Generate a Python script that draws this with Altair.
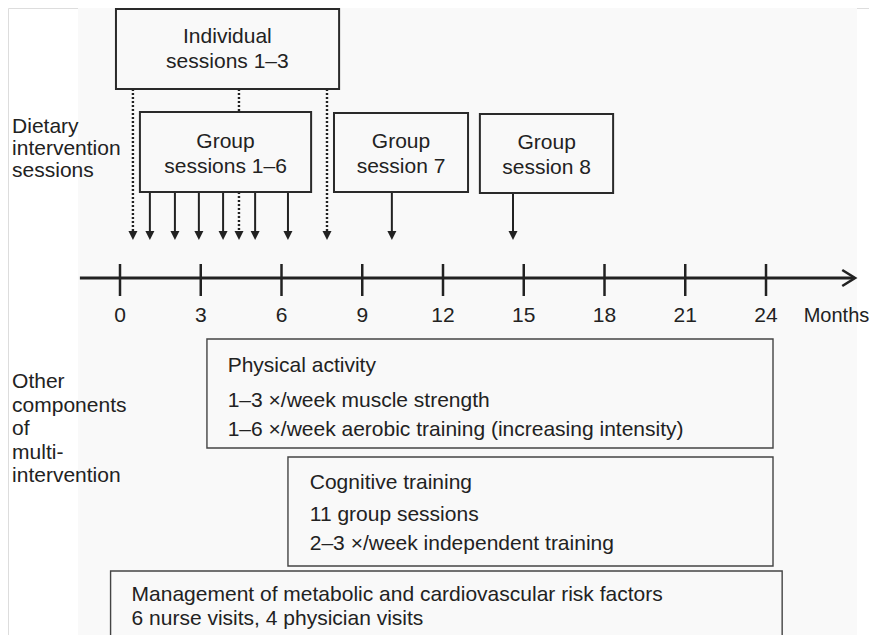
import altair as alt
import pandas as pd

# ---------------- data (x in months, y in diagram layout units from top) -------------
tick_months = [0, 3, 6, 9, 12, 15, 18, 21, 24]

individual_session_months = [0.48, 4.42, 7.69]
group_session_months = [1.11, 2.04, 2.93, 3.83, 5.02, 6.24]
group7_month = [10.1]
group8_month = [14.6]

box_names = ["Individual", "Group 1-6", "Group 7", "Group 8",
             "Physical", "Cognitive", "Management"]
box_start = [-0.15, 0.74, 7.95, 13.37, 3.23, 6.24, -0.35]
box_end = [8.14, 7.10, 12.93, 18.32, 24.26, 24.26, 24.6]
box_top = [9, 112, 113, 114, 339, 457, 571]
box_bottom = [89, 192, 192, 193, 448, 566, 700]
box_weight = [2, 2, 2, 2, 1.4, 1.4, 1.4]

center_text = ["Individual", "sessions 1\u20133", "Group", "sessions 1\u20136",
               "Group", "session 7", "Group", "session 8"]
center_x = [3.99, 3.99, 3.92, 3.92, 10.44, 10.44, 15.85, 15.85]
center_y = [43, 68, 148, 173, 148, 173, 149, 174]

left_text = ["Dietary", "intervention", "sessions",
             "Other", "components", "of", "multi-", "intervention",
             "Physical activity", "1\u20133 \u00d7/week muscle strength",
             "1\u20136 \u00d7/week aerobic training (increasing intensity)",
             "Cognitive training", "11 group sessions",
             "2\u20133 \u00d7/week independent training",
             "Management of metabolic and cardiovascular risk factors",
             "6 nurse visits, 4 physician visits"]
left_x = [-4.01, -4.01, -4.01,
          -4.01, -4.01, -4.01, -4.01, -4.01,
          4.0, 4.0, 4.0,
          7.05, 7.05, 7.05,
          0.43, 0.43]
left_y = [133, 155, 177,
          388, 411.5, 435, 458.5, 482,
          372, 407, 436,
          489, 521, 550,
          601, 625]

unit_label = "Months"
unit_x = 25.4

# layout levels
ARROW_TIP = 240
IND_BOTTOM = 89
GRP_TOP = 112
GRP_BOTTOM = 192
AXIS_Y = 278
TICK_TOP, TICK_BOTTOM = 264, 296
LABEL_Y = 322
AXIS_START, AXIS_END = -1.49, 27.25

# ---------------- scales ----------------
W, H = 861, 627
K = 26.917  # px per month
xdom = [(8 - 120) / K, (8 + W - 120) / K]
X = lambda f="x": alt.X(f, type="quantitative", scale=alt.Scale(domain=xdom, nice=False, zero=False), axis=None)
Y = lambda f="y": alt.Y(f, type="quantitative", scale=alt.Scale(domain=[8 + H, 8], nice=False, zero=False), axis=None)

ink = "#222222"
bg = "#f9f9f9"
font = "Liberation Sans"
fs = 21

# background panel
bg_df = pd.DataFrame({"x": [-1.56], "x2": [27.38], "y": [8], "y2": [8 + H]})
background = alt.Chart(bg_df).mark_rect(fill=bg, stroke=None).encode(
    x=X("x"), x2="x2", y=Y("y"), y2="y2")

# dotted individual-session lines
dot_rows = []
for m in individual_session_months:
    if box_start[1] < m < box_end[1]:
        dot_rows.append({"x": m, "y": IND_BOTTOM, "y2": GRP_TOP})
        dot_rows.append({"x": m, "y": GRP_BOTTOM, "y2": ARROW_TIP - 5})
    else:
        dot_rows.append({"x": m, "y": IND_BOTTOM, "y2": ARROW_TIP - 5})
dotted = alt.Chart(pd.DataFrame(dot_rows)).mark_rule(
    color=ink, strokeWidth=2.4, strokeDash=[2, 2]).encode(x=X("x"), y=Y("y"), y2="y2")

# solid group arrows
solid_rows = [{"x": m, "y": GRP_BOTTOM, "y2": ARROW_TIP - 5} for m in group_session_months]
solid_rows += [{"x": m, "y": box_bottom[2], "y2": ARROW_TIP - 5} for m in group7_month]
solid_rows += [{"x": m, "y": box_bottom[3], "y2": ARROW_TIP - 5} for m in group8_month]
solid = alt.Chart(pd.DataFrame(solid_rows)).mark_rule(
    color=ink, strokeWidth=2).encode(x=X("x"), y=Y("y"), y2="y2")

head_months = individual_session_months + group_session_months + group7_month + group8_month
heads = alt.Chart(pd.DataFrame({"x": head_months, "y": [ARROW_TIP - 4.5] * len(head_months)})).mark_point(
    shape="M-1,-1L1,-1L0,1Z", filled=True, size=81, color=ink, opacity=1).encode(x=X("x"), y=Y("y"))

# boxes
boxes_df = pd.DataFrame({"name": box_names, "x": box_start, "x2": box_end,
                         "y": box_top, "y2": box_bottom, "w": box_weight})
boxes_thick = alt.Chart(boxes_df[boxes_df.w > 1.5]).mark_rect(
    fill=bg, stroke="#2a2a2a", strokeWidth=2).encode(x=X("x"), x2="x2", y=Y("y"), y2="y2")
boxes_thin = alt.Chart(boxes_df[boxes_df.w <= 1.5]).mark_rect(
    fill=bg, stroke="#444444", strokeWidth=1.4, clip=True).encode(x=X("x"), x2="x2", y=Y("y"), y2="y2")

# time axis
axis_line = alt.Chart(pd.DataFrame({"x": [AXIS_START], "x2": [AXIS_END], "y": [AXIS_Y]})).mark_rule(
    color=ink, strokeWidth=3).encode(x=X("x"), x2="x2", y=Y("y"))
ticks = alt.Chart(pd.DataFrame({"x": tick_months, "y": [TICK_TOP] * 9, "y2": [TICK_BOTTOM] * 9})).mark_rule(
    color=ink, strokeWidth=2.5).encode(x=X("x"), y=Y("y"), y2="y2")
axis_head = alt.Chart(pd.DataFrame({"x": [27.07], "y": [AXIS_Y]})).mark_point(
    shape="M-0.8,-1L0.8,0L-0.8,1", filled=False, size=256, color=ink, strokeWidth=2.6, opacity=1
).encode(x=X("x"), y=Y("y"))
tick_labels = alt.Chart(pd.DataFrame({"x": tick_months, "y": [LABEL_Y] * 9,
                                      "t": [str(t) for t in tick_months]})).mark_text(
    font=font, fontSize=fs, color=ink, align="center", baseline="alphabetic").encode(
    x=X("x"), y=Y("y"), text="t:N")
unit_text = alt.Chart(pd.DataFrame({"x": [unit_x], "y": [LABEL_Y], "t": [unit_label]})).mark_text(
    font=font, fontSize=20, color=ink, align="left", baseline="alphabetic").encode(
    x=X("x"), y=Y("y"), text="t:N")

ctext = alt.Chart(pd.DataFrame({"x": center_x, "y": center_y, "t": center_text})).mark_text(
    font=font, fontSize=fs, color=ink, align="center", baseline="alphabetic").encode(
    x=X("x"), y=Y("y"), text="t:N")
ltext = alt.Chart(pd.DataFrame({"x": left_x, "y": left_y, "t": left_text})).mark_text(
    font=font, fontSize=fs, color=ink, align="left", baseline="alphabetic").encode(
    x=X("x"), y=Y("y"), text="t:N")

chart = alt.layer(
    background, dotted, solid, heads, boxes_thick, boxes_thin,
    axis_line, ticks, axis_head, tick_labels, unit_text, ctext, ltext
).properties(
    width=W, height=H, padding=0, autosize=alt.AutoSizeParams(type="none")
).configure_view(stroke=None).configure(background="white")

chart.save("out.html", embed_options={"renderer": "svg", "actions": False})
